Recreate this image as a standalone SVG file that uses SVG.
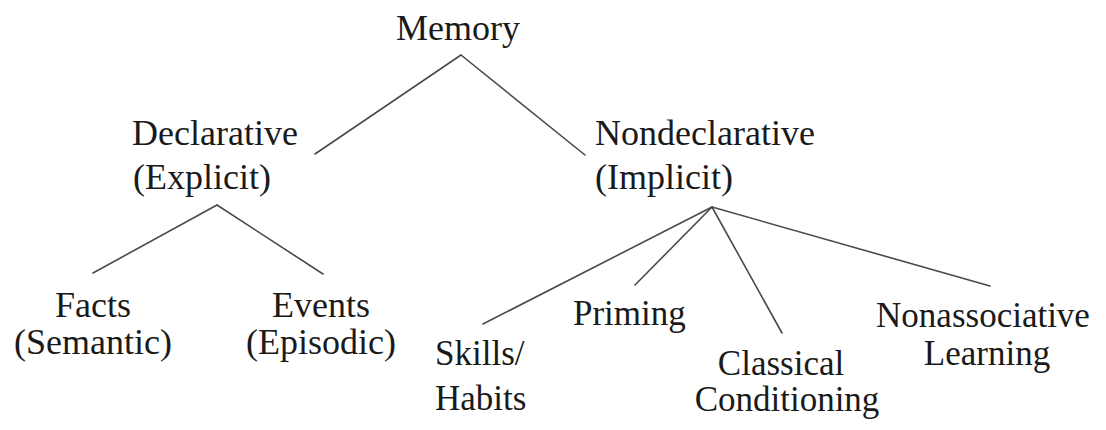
<svg xmlns="http://www.w3.org/2000/svg" width="1106" height="430" viewBox="0 0 1106 430">
<style>
text{font-family:"Liberation Serif","DejaVu Serif","Times New Roman",serif;font-size:36px;fill:#1a1a1a}
.c{text-anchor:middle}
.s{font-size:35px}
line{stroke:#4a4a4a;stroke-width:1.6;stroke-linecap:round}
</style>
<rect width="1106" height="430" fill="#fff"/>
<g id="connectors">
<line x1="461" y1="55" x2="315" y2="154"/>
<line x1="461" y1="55" x2="585" y2="155"/>
<line x1="217" y1="205" x2="93" y2="273"/>
<line x1="217" y1="205" x2="323" y2="274"/>
<line x1="712" y1="207" x2="483" y2="324"/>
<line x1="712" y1="207" x2="635" y2="285"/>
<line x1="712" y1="207" x2="782" y2="333"/>
<line x1="712" y1="207" x2="990" y2="286"/>
</g>
<g font-family="Liberation Serif, serif">
<g id="memory"><text x="458" y="40" class="c">Memory</text></g>
<g id="declarative"><text x="132" y="145">Declarative</text><text x="133" y="189">(Explicit)</text></g>
<g id="nondeclarative"><text x="595" y="145">Nondeclarative</text><text x="595" y="189">(Implicit)</text></g>
<g id="facts"><text x="93" y="317" class="c">Facts</text><text x="93" y="354" class="c">(Semantic)</text></g>
<g id="events"><text x="321" y="317" class="c">Events</text><text x="321" y="354" class="c">(Episodic)</text></g>
<g id="skills"><text x="435" y="365" class="s">Skills/</text><text x="435" y="410" class="s">Habits</text></g>
<g id="priming"><text x="573" y="325" class="s">Priming</text></g>
<g id="classical"><text x="781" y="375" class="c s">Classical</text><text x="787" y="411" class="c s">Conditioning</text></g>
<g id="nonassociative"><text x="983" y="327" class="c s">Nonassociative</text><text x="987" y="365" class="c s">Learning</text></g>
</g>
</svg>
